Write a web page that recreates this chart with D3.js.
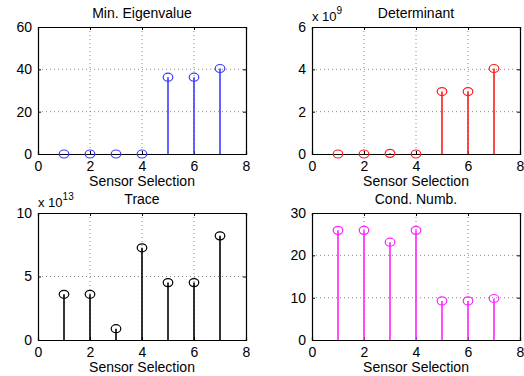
<!DOCTYPE html>
<html><head><meta charset="utf-8">
<script src="https://cdn.jsdelivr.net/npm/d3@7"></script>
<style>body{margin:0;background:#fff}svg{display:block}text{font-family:"Liberation Sans",Arial,sans-serif;fill:#000}</style>
</head><body><svg id="c" width="524" height="376"></svg>
<script>
const sensors = [1,2,3,4,5,6,7];
const minEig = [0,0,0,0,36.3,36.3,40.4];
const determinant = [0,0,0.03,0,2.95,2.95,4.04];   // x 10^9
const trace = [3.6,3.6,0.89,7.26,4.52,4.52,8.2];   // x 10^13
const condNumb = [25.9,25.9,23.1,25.9,9.24,9.24,9.8];
const xTicks = [0,2,4,6,8];

const panels = [
  {title:"Min. Eigenvalue", vals:minEig, ymax:60, yTicks:[0,20,40,60], color:"#3b3bff", exp:null, x0:38, x1:246, y0:27, y1:154},
  {title:"Determinant", vals:determinant, ymax:6, yTicks:[0,2,4,6], color:"#ff1a1a", exp:"9", x0:312, x1:520, y0:27, y1:154},
  {title:"Trace", vals:trace, ymax:10, yTicks:[0,5,10], color:"#000000", exp:"13", x0:38, x1:246, y0:213, y1:340},
  {title:"Cond. Numb.", vals:condNumb, ymax:30, yTicks:[0,10,20,30], color:"#ff22ff", exp:null, x0:312, x1:520, y0:213, y1:340}
];

const svg = d3.select("#c");
const fmt = d3.format("d");
panels.forEach(p=>{
  const x = d3.scaleLinear().domain([0,8]).range([p.x0,p.x1]);
  const y = d3.scaleLinear().domain([0,p.ymax]).range([p.y1,p.y0]);
  const g = svg.append("g");
  g.selectAll(".gx").data(xTicks.slice(1,-1)).enter().append("line")
    .attr("x1",d=>x(d)).attr("x2",d=>x(d)).attr("y1",p.y0).attr("y2",p.y1)
    .attr("stroke","#888").attr("stroke-width",1).attr("stroke-dasharray","1,3");
  g.selectAll(".gy").data(p.yTicks.slice(1,-1)).enter().append("line")
    .attr("x1",p.x0).attr("x2",p.x1).attr("y1",d=>y(d)).attr("y2",d=>y(d))
    .attr("stroke","#888").attr("stroke-width",1).attr("stroke-dasharray","1,3");
  const xa = g.append("g").attr("transform",`translate(0,${p.y1})`)
    .call(d3.axisBottom(x).tickValues(xTicks).tickSize(-3).tickPadding(7).tickFormat(fmt));
  const xt = g.append("g").attr("transform",`translate(0,${p.y0})`)
    .call(d3.axisTop(x).tickValues(xTicks).tickSize(-3).tickFormat(""));
  const ya = g.append("g").attr("transform",`translate(${p.x0},0)`)
    .call(d3.axisLeft(y).tickValues(p.yTicks).tickSize(-3).tickPadding(6).tickFormat(fmt));
  const yr = g.append("g").attr("transform",`translate(${p.x1},0)`)
    .call(d3.axisRight(y).tickValues(p.yTicks).tickSize(-3).tickFormat(""));
  [xa,xt,ya,yr].forEach(a=>{
    a.selectAll("path").attr("stroke","#000").attr("stroke-width",1.2);
    a.selectAll("line").attr("stroke","#000");
    a.selectAll("text").style("font-size","14px").style("font-family",'"Liberation Sans",Arial,sans-serif').attr("fill","#000");
  });
  g.selectAll(".stem").data(sensors).enter().append("line")
    .attr("x1",d=>x(d)).attr("x2",d=>x(d)).attr("y1",y(0)).attr("y2",(d,i)=>y(p.vals[i]))
    .attr("stroke",p.color).attr("stroke-width",1.6);
  g.selectAll(".mk").data(sensors).enter().append("ellipse")
    .attr("cx",d=>x(d)).attr("cy",(d,i)=>y(p.vals[i])).attr("rx",4.8).attr("ry",4)
    .attr("fill","none").attr("stroke",p.color).attr("stroke-width",1.2);
  g.append("text").attr("x",(p.x0+p.x1)/2).attr("y",p.y0-9).attr("text-anchor","middle")
    .style("font-size","14px").text(p.title);
  g.append("text").attr("x",(p.x0+p.x1)/2).attr("y",p.y1+32).attr("text-anchor","middle")
    .style("font-size","14px").text("Sensor Selection");
  if(p.exp){
    const t = g.append("text").attr("x",p.x0).attr("y",p.y0-6).style("font-size","13px");
    t.append("tspan").text("x 10");
    t.append("tspan").attr("dy",-7).style("font-size","10px").text(p.exp);
  }
});
</script></body></html>
